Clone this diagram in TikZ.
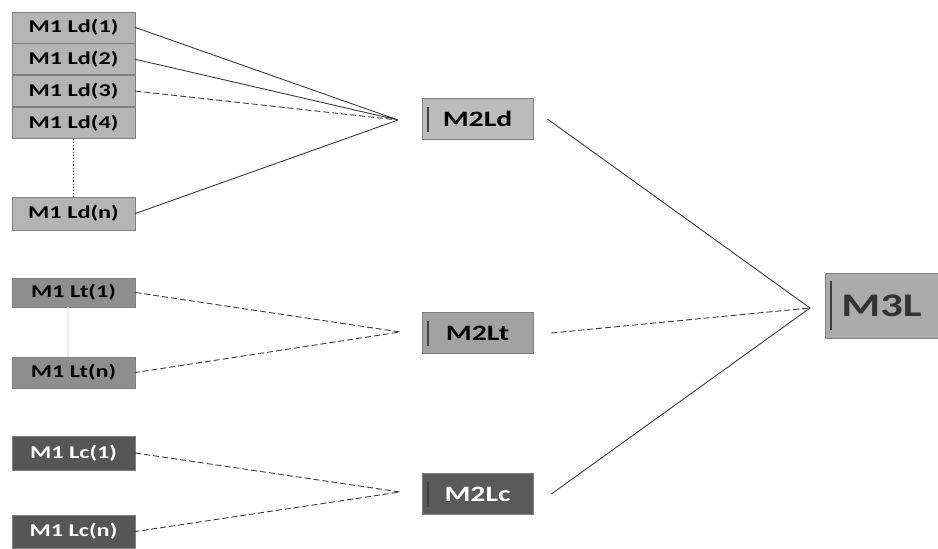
\documentclass[tikz,border=0pt]{standalone}
\usepackage{fontspec}
\newfontfamily\boxfont[FakeStretch=1.35]{Carlito}
\usetikzlibrary{positioning}

\definecolor{ldfill}{HTML}{B4B4B4}
\definecolor{ltfill}{HTML}{8E8E8E}
\definecolor{lcfill}{HTML}{565656}
\definecolor{mdfill}{HTML}{BCBCBC}
\definecolor{mtfill}{HTML}{A2A2A2}
\definecolor{mcfill}{HTML}{5A5A5A}
\definecolor{mlfill}{HTML}{ABABAB}
\definecolor{wire}{HTML}{3C3C3C}

\begin{document}
\begin{tikzpicture}[x=1pt,y=-1pt,
    mone/.style={rectangle,draw=black!50,line width=0.8pt,inner sep=0pt,
                 minimum width=123pt,font=\boxfont\bfseries\fontsize{18}{18}\selectfont},
    mtwo/.style={rectangle,draw=black!50,line width=0.8pt,inner sep=0pt,
                 minimum width=111pt,minimum height=41pt,
                 font=\boxfont\bfseries\fontsize{22}{22}\selectfont,
                 path picture={\draw[line width=1.6pt,black!75]
                   ([xshift=6pt,yshift=-8pt]path picture bounding box.north west) --
                   ([xshift=6pt,yshift=8pt]path picture bounding box.south west);}},
    link/.style={draw=wire,line width=0.9pt},
    dlink/.style={link,dashed,dash pattern=on 6pt off 3pt}]

  \useasboundingbox (0,0) rectangle (938,549);

  % first level, group d
  \node[mone,fill=ldfill,minimum height=31pt] (ld1) at (73.5,27.5) {M1 Ld(1)};
  \node[mone,fill=ldfill,minimum height=31pt] (ld2) [below=0pt of ld1] {M1 Ld(2)};
  \node[mone,fill=ldfill,minimum height=31pt] (ld3) [below=0pt of ld2] {M1 Ld(3)};
  \node[mone,fill=ldfill,minimum height=31pt] (ld4) [below=0pt of ld3] {M1 Ld(4)};
  \node[mone,fill=ldfill,minimum height=33pt] (ldn) at (73.5,213.5) {M1 Ld(n)};

  % first level, groups t and c
  \node[mone,fill=ltfill,minimum height=29pt] (lt1) at (73.5,292.5) {M1 Lt(1)};
  \node[mone,fill=ltfill,minimum height=31pt] (ltn) at (73.5,372.5) {M1 Lt(n)};
  \node[mone,fill=lcfill,text=white,minimum height=34pt] (lc1) at (73.5,453) {M1 Lc(1)};
  \node[mone,fill=lcfill,text=white,minimum height=33pt] (lcn) at (73.5,531.5) {M1 Lc(n)};

  % second and third level
  \node[mtwo,fill=mdfill] (m2ld) at (477.5,119) {M2Ld};
  \node[mtwo,fill=mtfill] (m2lt) at (477.5,333) {M2Lt};
  \node[mtwo,fill=mcfill,text=white] (m2lc) at (477.5,494) {M2Lc};
  \node[mtwo,fill=mlfill,minimum width=113pt,minimum height=65pt,
        font=\boxfont\bfseries\fontsize{33}{33}\selectfont,text=black!80] (m3l) at (881.5,305.5) {M3L};

  \coordinate (jd) at (398,120);
  \coordinate (jt) at (400,332);
  \coordinate (jc) at (400,492);
  \coordinate (jm) at (810,308);

  \draw[black!85,dotted,line width=1.2pt] (ld4.south) -- (ldn.north);
  \draw[black!7,line width=2pt] ([xshift=-6pt]lt1.south) -- ([xshift=-6pt]ltn.north);

  \path[link] (ld1.east) -- (jd)
              (ld2.east) -- (jd)
              (ldn.east) -- (jd);
  \path[dlink] (ld3.east) -- (jd);
  \path[dlink] (lt1.east) -- (jt) -- (ltn.east);
  \path[dlink] (lc1.east) -- (jc) -- (lcn.east);

  \path[link] ([xshift=14pt]m2ld.east) -- (jm) -- ([xshift=18pt]m2lc.east);
  \path[dlink] ([xshift=18pt]m2lt.east) -- (jm);
\end{tikzpicture}
\end{document}
